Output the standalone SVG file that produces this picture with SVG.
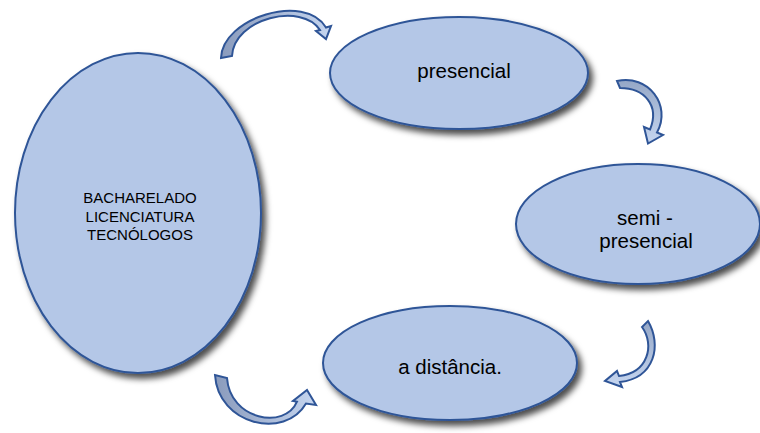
<svg xmlns="http://www.w3.org/2000/svg" width="760" height="433" viewBox="0 0 760 433">
  <defs>
    <filter id="shadow" x="-10%" y="-10%" width="125%" height="130%">
      <feDropShadow dx="4" dy="5" stdDeviation="3" flood-color="#000" flood-opacity="0.7"/>
    </filter>
    <linearGradient id="gL" x1="0" y1="0" x2="1" y2="0">
      <stop offset="0" stop-color="#8A9BBC"/>
      <stop offset="1" stop-color="#C6D6F0"/>
    </linearGradient>
    <linearGradient id="gT" x1="0" y1="0" x2="0" y2="1">
      <stop offset="0" stop-color="#95A7C6"/>
      <stop offset="1" stop-color="#C6D6F0"/>
    </linearGradient>
    <style>
      .node { fill: #B4C7E7; stroke: #2F5597; stroke-width: 2; filter: url(#shadow); }
      .lbl { font-family: "Liberation Sans", Arial, sans-serif; fill: #000; text-anchor: middle; }
      .arrow { stroke: #2F5597; stroke-width: 2; stroke-linejoin: miter; }
    </style>
  </defs>

  <g id="connectors">
    <path class="arrow" fill="url(#gL)" d="M221,58 C222,18 305,-8 326,27.5 L331,26 L326,39 L316,31 L320,30 C302,2 234,18 232,56 Z"/>
    <path class="arrow" fill="url(#gT)" d="M617,81 C648,74 672,105 657,132.5 L663,135 L648,143.5 L644,127 L650,129.5 C660,105 644,88 620,88 Z"/>
    <path class="arrow" fill="url(#gT)" d="M648,321 C662,345 655,378 620,382 L622,387 L605,381 L617,371 L619,376 C648,373 655,345 642,327 Z"/>
    <path class="arrow" fill="url(#gL)" d="M215,375 C218,425 285,440 306,403.5 L316,405 L307,390 L293,401 L297,401.7 C285,430 230,420 227,378 Z"/>
  </g>

  <g id="node-cursos">
    <ellipse class="node" cx="138" cy="213" rx="123" ry="160"/>
    <text class="lbl" font-size="15" x="140" y="203">BACHARELADO</text>
    <text class="lbl" font-size="15" x="140" y="221.5">LICENCIATURA</text>
    <text class="lbl" font-size="15" x="140" y="240">TECNÓLOGOS</text>
  </g>

  <g id="node-presencial">
    <ellipse class="node" cx="459" cy="73" rx="129" ry="56"/>
    <text class="lbl" font-size="20.5" x="464" y="78">presencial</text>
  </g>

  <g id="node-semi">
    <ellipse class="node" cx="638" cy="224" rx="122" ry="60"/>
    <text class="lbl" font-size="20.5" x="645" y="225">semi -</text>
    <text class="lbl" font-size="20.5" x="646" y="248">presencial</text>
  </g>

  <g id="node-distancia">
    <ellipse class="node" cx="450" cy="363" rx="127" ry="57"/>
    <text class="lbl" font-size="20.5" x="450" y="374">a distância.</text>
  </g>
</svg>
